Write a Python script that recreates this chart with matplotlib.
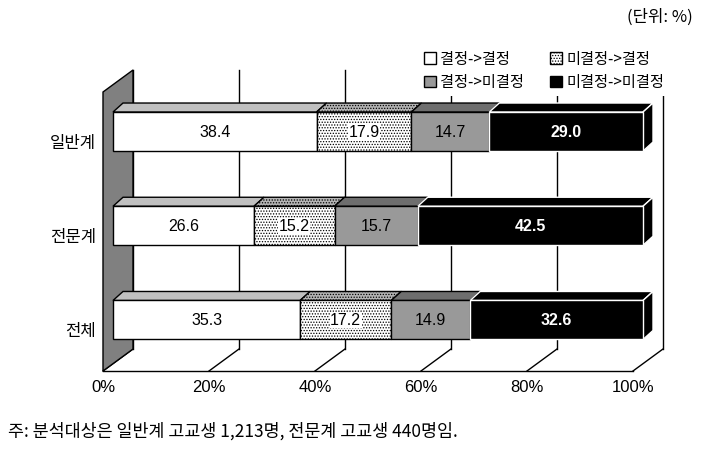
import numpy as np
import matplotlib.pyplot as plt
from matplotlib.patches import Polygon, Patch

plt.rcParams['font.family'] = ['Liberation Sans', 'Noto Sans CJK KR', 'DejaVu Sans']
plt.rcParams['hatch.linewidth'] = 0.6
kr = ['Noto Sans CJK KR', 'DejaVu Sans']

# Données
groupes = ['일반계', '전문계', '전체']
series = ['결정->결정', '미결정->결정', '결정->미결정', '미결정->미결정']
valeurs = np.array([
    [38.4, 17.9, 14.7, 29.0],
    [26.6, 15.2, 15.7, 42.5],
    [35.3, 17.2, 14.9, 32.6],
])
ticks_x = [0, 20, 40, 60, 80, 100]
tick_labels = ['0%', '20%', '40%', '60%', '80%', '100%']

# Styles par série : face avant, face du dessus, hachure, bords, texte
face   = ['white', 'white', '#999999', 'black']
dessus = ['#c0c0c0', '#b4b4b4', '#6e6e6e', 'black']
hach   = [None, '......', None, None]
bord   = ['black', 'black', 'black', 'white']
txtcol = ['black', 'black', 'black', 'white']
poids  = ['normal', 'normal', 'normal', 'bold']

W, H = 701, 456
fig = plt.figure(figsize=(W / 100, H / 100), dpi=100)
ax = fig.add_axes([103 / W, (H - 372) / H, 530 / W, 279 / H])
ax.set_xlim(0, 100)
ax.set_ylim(2.446, -0.515)

# pixels -> unités de données
ppx = ax.bbox.width / 100
ppy = ax.bbox.height / (2.446 + 0.515)
mur_dx, mur_dy = 30 / ppx, 22 / ppy      # profondeur du mur / du plancher
bdx, bdy = 10 / ppx, 9 / ppy             # profondeur des barres
bh = 39 / ppy                            # hauteur des barres
y0, y1 = ax.get_ylim()

# Grille du fond + lignes du plancher
for t in ticks_x:
    ax.plot([t + mur_dx, t + mur_dx], [y0 - mur_dy, y1 - mur_dy], color='black', lw=1, zorder=1, clip_on=False)
    ax.plot([t, t + mur_dx], [y0, y0 - mur_dy], color='black', lw=1, zorder=1, clip_on=False)

# Mur gauche
ax.add_patch(Polygon([(0, y0), (0, y1), (mur_dx, y1 - mur_dy), (mur_dx, y0 - mur_dy)],
                     closed=True, facecolor='#808080', edgecolor='black', lw=1, zorder=2, clip_on=False))

# Barres empilées en pseudo-3D
gauche = np.zeros(len(groupes))
idx = np.arange(len(groupes))
for j in range(len(series)):
    w = valeurs[:, j]
    for i in idx:
        l = gauche[i] + bdx
        yt = i - bdy - bh / 2
        ax.add_patch(Polygon([(l, yt), (l + w[i], yt), (l + w[i] + bdx, yt - bdy), (l + bdx, yt - bdy)],
                             closed=True, facecolor=dessus[j], edgecolor=bord[j], hatch=hach[j],
                             lw=1, zorder=3, clip_on=False))
        if j == len(series) - 1:
            r = l + w[i]
            ax.add_patch(Polygon([(r, yt), (r + bdx, yt - bdy), (r + bdx, yt + bh - bdy), (r, yt + bh)],
                                 closed=True, facecolor=dessus[j], edgecolor=bord[j],
                                 lw=1, zorder=3, clip_on=False))
    ax.barh(idx - bdy, w, left=gauche + bdx, height=bh, color=face[j], edgecolor=bord[j],
            hatch=hach[j], lw=1, zorder=4, clip_on=False)
    for i in idx:
        ax.text(gauche[i] + bdx + w[i] / 2, i - bdy, f'{w[i]:.1f}', ha='center', va='center',
                fontsize=11.5, color=txtcol[j], fontweight=poids[j], zorder=6,
                bbox=dict(facecolor='white', edgecolor='none', pad=0.5) if hach[j] else None)
    gauche += w

# Axes
for s in ['top', 'right', 'left']:
    ax.spines[s].set_visible(False)
ax.spines['bottom'].set_linewidth(1)
ax.set_xticks(ticks_x)
ax.set_xticklabels(tick_labels, fontsize=12)
ax.set_yticks(idx)
ax.set_yticklabels(groupes, family=kr, fontsize=12)
ax.tick_params(axis='x', length=0, pad=6)
ax.tick_params(axis='y', length=0, pad=5)

# Légende (ordre par colonnes), fond blanc qui masque le haut de la grille
poignees = [Patch(facecolor=face[j], edgecolor='black', hatch=hach[j], label=series[j]) for j in range(4)]
ordre = [0, 2, 1, 3]
leg = fig.legend([poignees[k] for k in ordre], [series[k] for k in ordre], ncol=2, frameon=True,
                 loc='upper left', bbox_to_anchor=(419 / W, 1 - 46 / H), prop={'family': kr, 'size': 11},
                 handlelength=0.75, handleheight=0.75, handletextpad=0.3, columnspacing=1.7,
                 labelspacing=0.4, borderpad=0.35, borderaxespad=0, fancybox=False,
                 facecolor='white', edgecolor='none', framealpha=1)

fig.text(693 / W, 1 - 17 / H, '(단위: %)', ha='right', va='center', family=kr, fontsize=12)
fig.text(8 / W, 1 - 431 / H, '주: 분석대상은 일반계 고교생 1,213명, 전문계 고교생 440명임.',
         ha='left', va='center', family=kr, fontsize=12.5)

fig.savefig('out.png', dpi=100)
